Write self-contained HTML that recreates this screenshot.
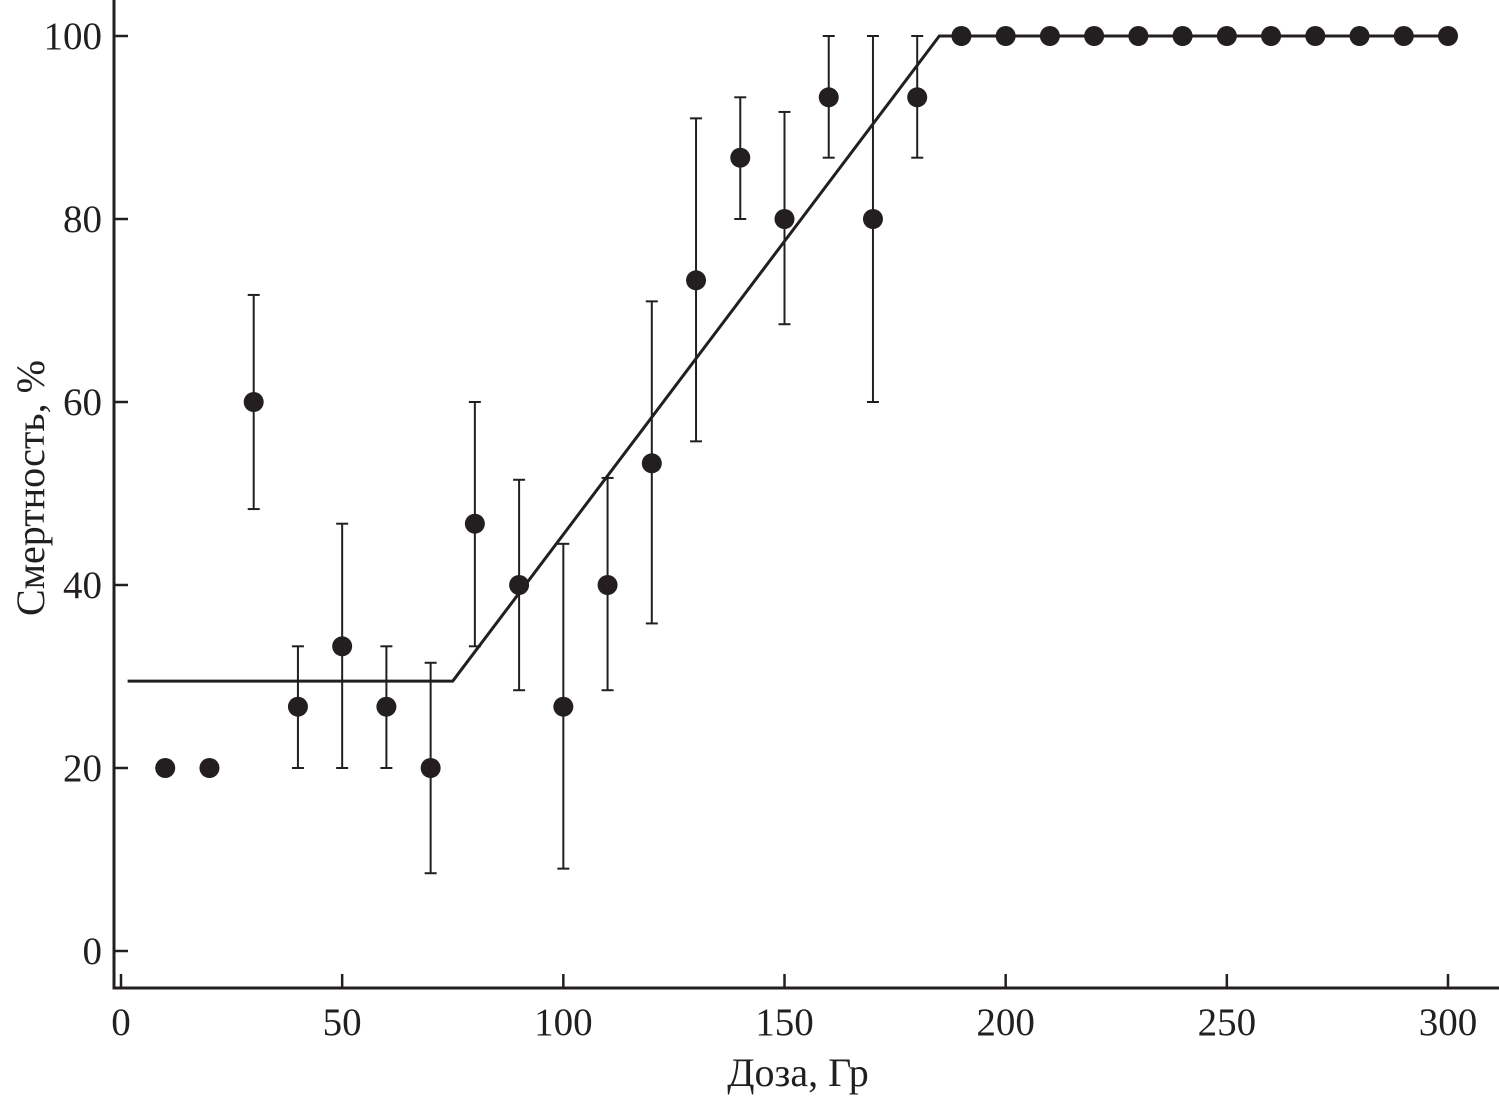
<!DOCTYPE html>
<html><head><meta charset="utf-8"><style>
html,body{margin:0;padding:0;background:#fff;}
svg{display:block;font-family:"Liberation Serif",serif;}
</style></head><body>
<svg id="chart" width="1499" height="1096" viewBox="0 0 1499 1096">
<g id="axes"></g>
<g id="marks"></g>
<text x="798" y="1086" text-anchor="middle" font-size="40" fill="#231f20">Доза, Гр</text>
<text transform="translate(44,488) rotate(-90)" text-anchor="middle" font-size="40" fill="#231f20">Смертность, %</text>
</svg>
<script>
const doses=[10,20,30,40,50,60,70,80,90,100,110,120,130,140,150,160,170,180,190,200,210,220,230,240,250,260,270,280,290,300];
const mortality=[20,20,60,26.7,33.3,26.7,20,46.7,40,26.7,40,53.3,73.3,86.7,80,93.3,80,93.3,100,100,100,100,100,100,100,100,100,100,100,100];
const errLow=[null,null,48.3,20,20,20,8.5,33.3,28.5,9,28.5,35.8,55.7,80,68.5,86.7,60,86.7,null,null,null,null,null,null,null,null,null,null,null,null];
const errHigh=[null,null,71.7,33.3,46.7,33.3,31.5,60,51.5,44.5,51.7,71,91,93.3,91.7,100,100,100,null,null,null,null,null,null,null,null,null,null,null,null];
const fitX=[1.5,75,185,300];
const fitY=[29.5,29.5,100,100];
const xTicks=[0,50,100,150,200,250,300];
const yTicks=[0,20,40,60,80,100];
const NS="http://www.w3.org/2000/svg";
const sx=v=>121+v*(1448-121)/300;
const sy=v=>951-v*(951-36)/100;
const C="#231f20";
function mk(tag,attrs,parent){const e=document.createElementNS(NS,tag);for(const k in attrs)e.setAttribute(k,attrs[k]);parent.appendChild(e);return e;}
const axes=document.getElementById('axes'),marks=document.getElementById('marks');
let a=mk('path',{d:'M114 0 V988 H1499',fill:'none',stroke:C,'stroke-width':3},axes);


xTicks.forEach(t=>{
 const l=mk('line',{x1:sx(t),x2:sx(t),y1:974,y2:988,stroke:C,'stroke-width':2.5},axes);
 
 
 const tx=mk('text',{x:sx(t),y:1035,'text-anchor':'middle','font-size':39,fill:C},axes);
 tx.textContent=t;
 
 
});
yTicks.forEach(t=>{
 const l=mk('line',{x1:114,x2:128,y1:sy(t),y2:sy(t),stroke:C,'stroke-width':2.5},axes);
 
 
 const tx=mk('text',{x:102,y:sy(t)+13,'text-anchor':'end','font-size':39,fill:C},axes);
 tx.textContent=t;
 
 
});
const fit=mk('polyline',{points:fitX.map((x,i)=>sx(x)+','+sy(fitY[i])).join(' '),fill:'none',stroke:C,'stroke-width':3},marks);


doses.forEach((d,i)=>{
 const x=sx(d);
 if(errLow[i]!==null){
  const g=mk('g',{stroke:C,'stroke-width':2},marks);
  
  
  mk('line',{x1:x,x2:x,y1:sy(errLow[i]),y2:sy(errHigh[i])},g);
  mk('line',{x1:x-6,x2:x+6,y1:sy(errLow[i]),y2:sy(errLow[i])},g);
  mk('line',{x1:x-6,x2:x+6,y1:sy(errHigh[i]),y2:sy(errHigh[i])},g);
 }
 const c=mk('circle',{cx:x,cy:sy(mortality[i]),r:10,fill:C},marks);
 
 
});
</script>
</body></html>
